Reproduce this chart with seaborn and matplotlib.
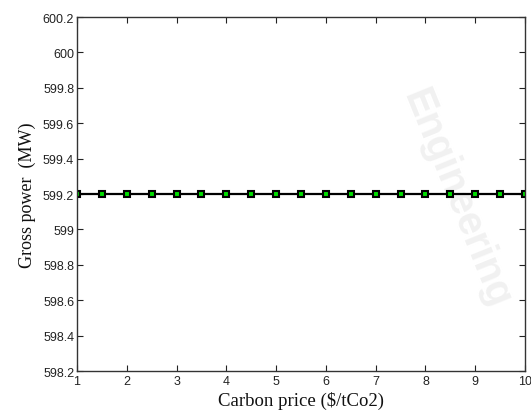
import matplotlib
matplotlib.use("Agg")
import matplotlib.pyplot as plt
import seaborn as sns
import pandas as pd

carbon_price = [1, 1.5, 2, 2.5, 3, 3.5, 4, 4.5, 5, 5.5, 6, 6.5, 7, 7.5, 8, 8.5, 9, 9.5, 10]
gross_power = [599.2] * 19
x_ticks = [1, 2, 3, 4, 5, 6, 7, 8, 9, 10]
y_ticks = [598.2, 598.4, 598.6, 598.8, 599, 599.2, 599.4, 599.6, 599.8, 600, 600.2]
y_tick_labels = ["598.2", "598.4", "598.6", "598.8", "599", "599.2", "599.4", "599.6", "599.8", "600", "600.2"]

sns.set_theme(style="white")
plt.rcParams['font.family'] = ['Liberation Sans', 'DejaVu Sans']

df = pd.DataFrame({"x": carbon_price, "y": gross_power})

fig = plt.figure(figsize=(5.31, 4.14), dpi=100)
# faint watermark
fig.text(0.86, 0.52, "Engineering", rotation=-68, fontsize=29, color="#f1f1f1",
         fontweight="bold", ha="center", va="center", zorder=-1)
ax = fig.add_axes([0.145, 0.1014, 0.8437, 0.8551])
ax.set_zorder(2)
ax.patch.set_alpha(0)

sns.lineplot(data=df, x="x", y="y", ax=ax, color="black", linewidth=1.6,
             marker="s", markersize=4, markerfacecolor="#00dd00",
             markeredgecolor="black", markeredgewidth=1.5)

ax.set_xlim(1, 10)
ax.set_ylim(598.2, 600.2)
ax.set_xticks(x_ticks)
ax.set_xticklabels([str(t) for t in x_ticks])
ax.set_yticks(y_ticks)
ax.set_yticklabels(y_tick_labels)
ax.tick_params(direction="in", length=4, width=0.8, labelsize=9, colors="#222222",
               top=True, right=True, bottom=True, left=True, pad=2)
ax.tick_params(axis="x", pad=3)
for s in ax.spines.values():
    s.set_color("#333333")
    s.set_linewidth(1.0)

ax.set_xlabel("Carbon price ($/tCo2)", fontfamily="Liberation Serif", fontsize=13.5,
              color="#111111", labelpad=3)
ax.set_ylabel("Gross power  (MW)", fontfamily="Liberation Serif", fontsize=13,
              color="#111111", labelpad=5)

fig.savefig("out.png", dpi=100)
